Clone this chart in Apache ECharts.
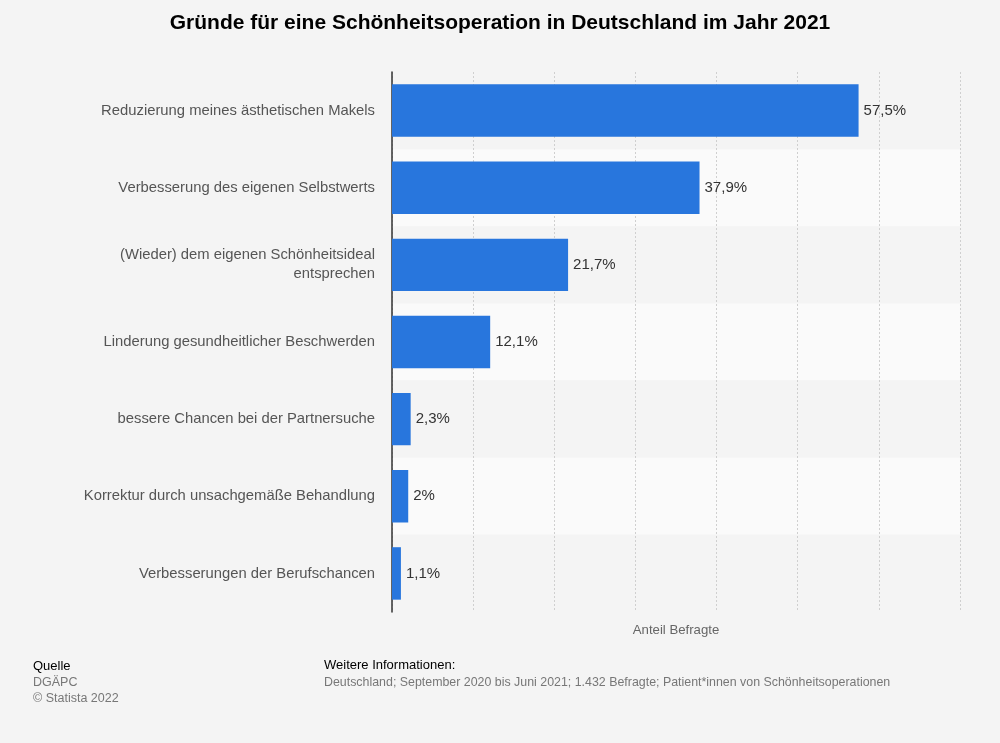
<!DOCTYPE html>
<html><head><meta charset="utf-8">
<script src="https://cdn.jsdelivr.net/npm/echarts@6/dist/echarts.min.js"></script>
<style>html,body{margin:0;padding:0;background:#f4f4f4;}#c{width:1000px;height:743px;}</style>
</head><body><div id="c"></div>
<script>
const categories = [
  "Reduzierung meines ästhetischen Makels",
  "Verbesserung des eigenen Selbstwerts",
  "(Wieder) dem eigenen Schönheitsideal\nentsprechen",
  "Linderung gesundheitlicher Beschwerden",
  "bessere Chancen bei der Partnersuche",
  "Korrektur durch unsachgemäße Behandlung",
  "Verbesserungen der Berufschancen"
];
const values = [57.5, 37.9, 21.7, 12.1, 2.3, 2, 1.1];
const xTicks = [0, 10, 20, 30, 40, 50, 60, 70];

const chart = echarts.init(document.getElementById('c'));
const FONT = 'Liberation Sans, Arial, sans-serif';
chart.setOption({
  backgroundColor: '#f4f4f4',
  textStyle: {fontFamily: FONT},
  title: [
    {text: 'Gründe für eine Schönheitsoperation in Deutschland im Jahr 2021', left: 'center', top: 8,
     textStyle: {fontFamily: FONT, fontSize: 21, fontWeight: 'bold', color: '#000'}},
    {text: 'Quelle', left: 28, top: 655, textStyle: {fontFamily: FONT, fontSize: 13, fontWeight: 'normal', color: '#000'}},
    {text: 'DGÄPC\n© Statista 2022', left: 28, top: 670, textStyle: {fontFamily: FONT, fontSize: 12.5, fontWeight: 'normal', color: '#777', lineHeight: 16}},
    {text: 'Weitere Informationen:', left: 319, top: 654, textStyle: {fontFamily: FONT, fontSize: 13, fontWeight: 'normal', color: '#000'}},
    {text: 'Deutschland; September 2020 bis Juni 2021; 1.432 Befragte; Patient*innen von Schönheitsoperationen', left: 319, top: 672,
     textStyle: {fontFamily: FONT, fontSize: 12.4, fontWeight: 'normal', color: '#777'}}
  ],
  grid: {left: 392, right: 40, top: 72, bottom: 131},
  xAxis: {
    type: 'value', min: xTicks[0], max: xTicks[xTicks.length - 1], interval: 10,
    name: 'Anteil Befragte', nameLocation: 'middle', nameGap: 12,
    nameTextStyle: {color: '#666', fontSize: 13.2, fontFamily: FONT},
    axisLabel: {show: false}, axisTick: {show: false}, axisLine: {show: false},
    splitLine: {show: true, lineStyle: {color: '#cfcfcf', type: [2, 2], width: 1}}
  },
  yAxis: {
    type: 'category', data: categories, inverse: true,
    axisLine: {show: true, lineStyle: {color: '#333', width: 1.5}},
    axisTick: {show: false},
    axisLabel: {color: '#555', fontSize: 14.8, margin: 17, lineHeight: 19, fontFamily: FONT, align: 'right'},
    splitArea: {show: true, areaStyle: {color: ['#f4f4f4', '#fafafa']}}
  },
  series: [{
    type: 'bar', data: values, barWidth: '68%',
    itemStyle: {color: '#2876dd'},
    label: {show: true, position: 'right', distance: 5, color: '#333', fontSize: 15, fontFamily: FONT,
      formatter: p => String(p.value).replace('.', ',') + '%'}
  }]
});
</script></body></html>
